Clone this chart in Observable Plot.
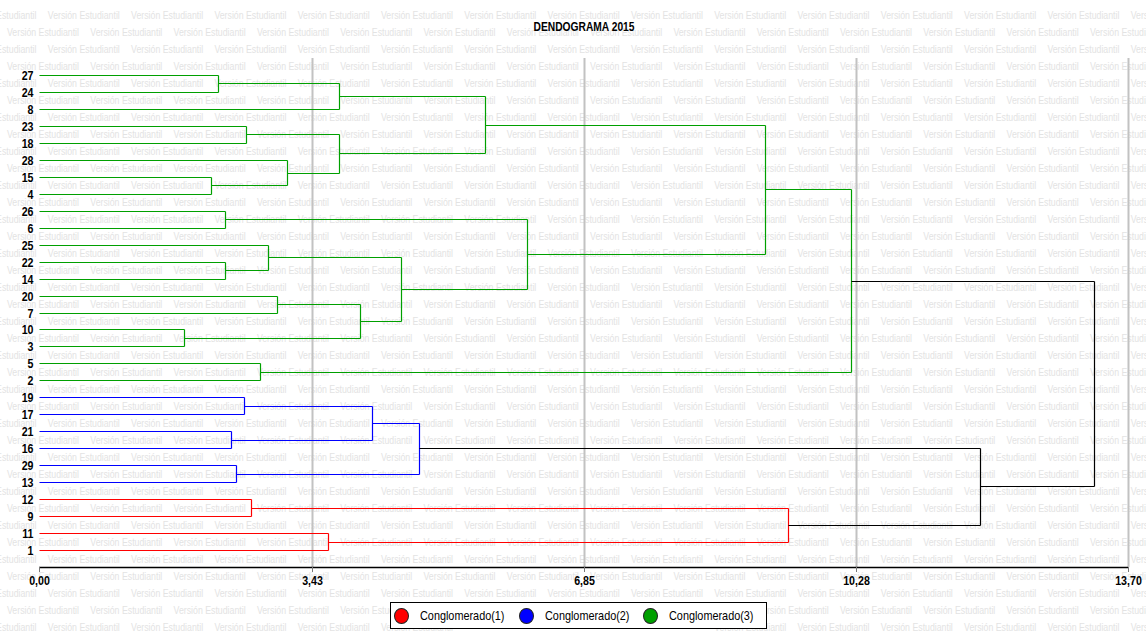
<!DOCTYPE html>
<html>
<head>
<meta charset="utf-8">
<script src="https://cdn.jsdelivr.net/npm/d3@7"></script>
<script src="https://cdn.jsdelivr.net/npm/@observablehq/plot@0.6"></script>
<style>
  body { margin: 0; background: #fff; }
  #wrap { position: relative; width: 1146px; height: 633px; overflow: hidden; background: #fff;
          font-family: "Liberation Sans", Arial, sans-serif; }
  #wm { position: absolute; left: 0; top: 0; }
  #title { position: absolute; left: 0; top: 19px; width: 1168px; text-align: center;
           font-weight: bold; font-size: 12.8px; line-height: 16px; color: #000; }
  #title span { display: inline-block; transform: scaleX(0.8); }
  #chart { position: absolute; left: 0; top: 45px; }
  #chart svg [aria-label$="tick label"] text { font-size: 13px !important; font-weight: bold !important; }
  #legend { position: absolute; left: 390px; top: 602px; width: 377px; height: 27px; box-sizing: border-box;
            border: 1px solid #000; background: #fff; }
  .item { position: absolute; top: 0; height: 25px; display: flex; align-items: center; }
  .dot { width: 15px; height: 16px; border-radius: 50%; border: 1px solid #222; box-sizing: border-box; flex: none; }
  .lab { margin-left: 11px; font-size: 13px; color: #000; white-space: nowrap;
         display: inline-block; transform: scaleX(0.835); transform-origin: 0 50%; }
</style>
</head>
<body>
<div id="wrap">
  <svg id="wm" width="1146" height="633"></svg>
  <div id="title"><span>DENDOGRAMA 2015</span></div>
  <div id="chart"></div>
  <div id="legend"></div>
</div>
<script>
// ---- data ----
const leaves = [27, 24, 8, 23, 18, 28, 15, 4, 26, 6, 25, 22, 14, 20, 7, 10, 3, 5, 2, 19, 17, 21, 16, 29, 13, 12, 9, 11, 1];
// merges: children are leaf labels (numbers) or earlier merge ids ("m0", ...)
const mergeLeft   = [27, "m0", 23, 15, 28, "m2", "m1", 26, 22, 25, 20, 10, "m10", "m9", "m7", "m6", 5, "m15", 19, 21, "m18", 29, "m20", 12, 11, "m23", "m22", "m17"];
const mergeRight  = [24, 8, 18, 4, "m3", "m4", "m5", 6, 14, "m8", 7, 3, "m11", "m12", "m13", "m14", 2, "m16", 17, 16, "m19", 13, "m21", 9, 1, "m24", "m25", "m26"];
const mergeHeight = [2.25, 3.77, 2.60, 2.16, 3.12, 3.77, 5.61, 2.34, 2.34, 2.88, 2.99, 1.83, 4.04, 4.55, 6.14, 9.13, 2.78, 10.21, 2.58, 2.42, 4.19, 2.48, 4.78, 2.67, 3.64, 9.42, 11.84, 13.27];
const mergeCluster = [3, 3, 3, 3, 3, 3, 3, 3, 3, 3, 3, 3, 3, 3, 3, 3, 3, 3, 2, 2, 2, 2, 2, 1, 1, 1, 0, 0];
const clusterNames = ["Conglomerado(1)", "Conglomerado(2)", "Conglomerado(3)"];
const clusterColors = ["#ff0000", "#0000ff", "#00a000"];
const joinColor = "#000000";
const xTicks = [0, 3.43, 6.85, 10.28, 13.70];
const xMax = 13.70;

// ---- build segments ----
const pos = new Map(); // id -> {x, y}
leaves.forEach((l, i) => pos.set(l, {x: 0, y: i}));
const segs = [];
mergeHeight.forEach((h, k) => {
  const a = pos.get(mergeLeft[k]), b = pos.get(mergeRight[k]);
  const c = mergeCluster[k] ? clusterColors[mergeCluster[k] - 1] : joinColor;
  segs.push({x1: a.x, y1: a.y, x2: h, y2: a.y, c});
  segs.push({x1: b.x, y1: b.y, x2: h, y2: b.y, c});
  segs.push({x1: h, y1: a.y, x2: h, y2: b.y, c});
  pos.set("m" + k, {x: h, y: (a.y + b.y) / 2});
});

// ---- watermark (skipping copies fully hidden under the legend box) ----
const wm = d3.select("#wm");
for (let k = 0; k < 37; k++) {
  const y = 15 + 17 * k;
  for (let x = (k % 2 === 0 ? -35.5 : 7); x < 1146; x += 83.3) {
    if (y > 603 && y < 628 && x > 390 && x + 72 < 767) continue;
    wm.append("text").attr("x", x).attr("y", y).attr("dy", "0.35em")
      .attr("font-size", 10.5).attr("fill", "#e3e3e3")
      .attr("textLength", 72).attr("lengthAdjust", "spacingAndGlyphs")
      .text("Versión Estudiantil");
  }
}

// ---- chart ----
const chart = Plot.plot({
  width: 1146,
  height: 550,
  marginLeft: 39,
  marginRight: 18,
  marginTop: 13,
  marginBottom: 28,
  style: {background: "transparent", fontFamily: '"Liberation Sans", Arial, sans-serif', color: "#000"},
  x: {domain: [0, xMax], round: true, axis: null},
  y: {domain: [-1, leaves.length], reverse: true, round: true, axis: null},
  marks: [
    Plot.ruleX(xTicks.slice(1), {stroke: "#c2c2c2", strokeWidth: 2}),
    Plot.ruleY([leaves.length], {x1: 0, x2: xMax, stroke: "#000", strokeWidth: 1.6}),
    Plot.axisX({ticks: xTicks, tickFormat: d => d.toFixed(2).replace(".", ","), tickSize: 5,
                stroke: "#777", tickPadding: 3, fontWeight: "bold", fontSize: 13, fill: "#000"}),
    Plot.axisY({ticks: d3.range(leaves.length), tickFormat: i => leaves[i], tickSize: 0,
                tickPadding: 6, fontWeight: "bold", fontSize: 13, fill: "#000"}),
    Plot.link(segs, {x1: "x1", y1: "y1", x2: "x2", y2: "y2", stroke: "c", strokeWidth: 1.2})
  ]
});
// narrow (Arial Narrow–like) tick labels: horizontal squeeze about each label's anchor
chart.querySelectorAll('[aria-label$="tick label"] text').forEach(t => {
  const tr = t.getAttribute("transform") || "";
  t.setAttribute("transform", tr + " scale(0.82,1)");
});
document.getElementById("chart").appendChild(chart);

// ---- legend ----
const legend = document.getElementById("legend");
clusterNames.forEach((name, i) => {
  const it = document.createElement("div");
  it.className = "item";
  it.style.left = (3 + i * 124.7) + "px";
  it.innerHTML = `<div class="dot" style="background:${clusterColors[i]}"></div><div class="lab">${name}</div>`;
  legend.appendChild(it);
});
</script>
</body>
</html>
